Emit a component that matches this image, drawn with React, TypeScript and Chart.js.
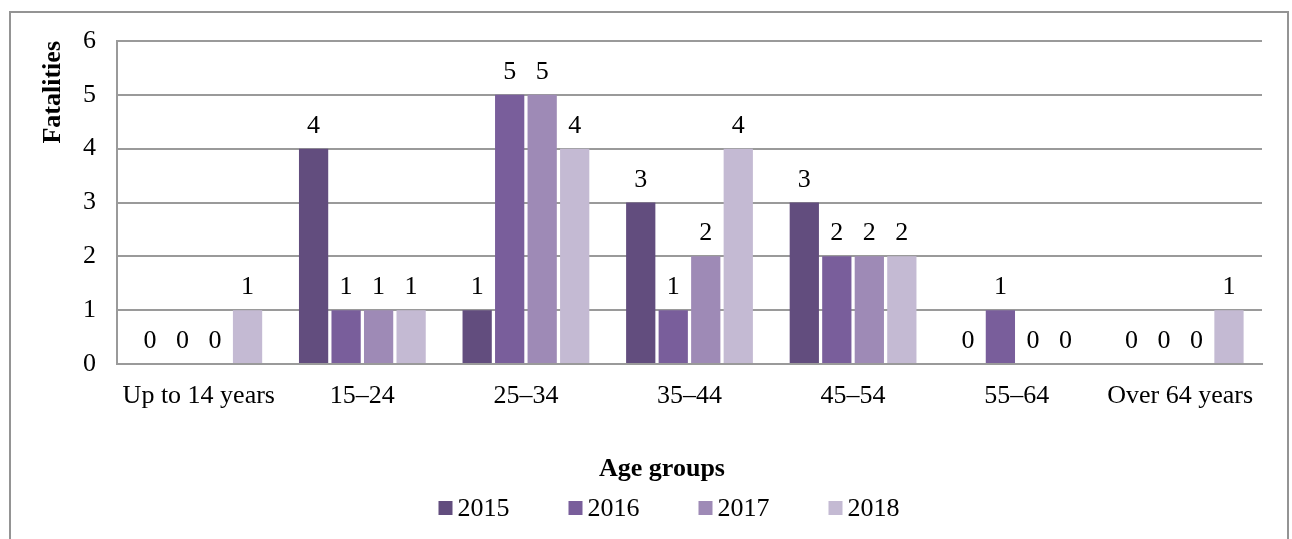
import React, { useEffect, useRef } from "react";
import { Chart, registerables } from "chart.js";

Chart.register(...registerables);

const categories = ["Up to 14 years", "15–24", "25–34", "35–44", "45–54", "55–64", "Over 64 years"];
const seriesNames = ["2015", "2016", "2017", "2018"];
const values2015 = [0, 4, 1, 3, 3, 0, 0];
const values2016 = [0, 1, 5, 1, 2, 1, 0];
const values2017 = [0, 1, 5, 2, 2, 0, 0];
const values2018 = [1, 1, 4, 4, 2, 0, 1];
const seriesColors = ["#624D7E", "#795E9B", "#9E8AB6", "#C4BAD3"];
const yTicks = [0, 1, 2, 3, 4, 5, 6];

const FONT = "'Liberation Serif', 'Times New Roman', serif";

const dataLabelPlugin = {
  id: "dataLabels",
  afterDatasetsDraw(chart: any) {
    const ctx = chart.ctx;
    ctx.save();
    ctx.font = `26px ${FONT}`;
    ctx.fillStyle = "#000";
    ctx.textAlign = "center";
    ctx.textBaseline = "alphabetic";
    chart.data.datasets.forEach((ds: any, i: number) => {
      const meta = chart.getDatasetMeta(i);
      meta.data.forEach((bar: any, j: number) => {
        ctx.fillText(String(ds.data[j]), bar.x, bar.y - 16);
      });
    });
    ctx.restore();
  },
};

const frameAndLegendPlugin = {
  id: "frameLegend",
  beforeDraw(chart: any) {
    const ctx = chart.ctx;
    ctx.save();
    ctx.fillStyle = "#fff";
    ctx.fillRect(0, 0, chart.width, chart.height);
    ctx.strokeStyle = "#949494";
    ctx.lineWidth = 2;
    ctx.strokeRect(10, 12, 1278, chart.height + 20);
    ctx.restore();
  },
  afterDraw(chart: any) {
    const ctx = chart.ctx;
    ctx.save();
    // axis title
    ctx.font = `bold 26px ${FONT}`;
    ctx.fillStyle = "#000";
    ctx.textAlign = "center";
    ctx.textBaseline = "middle";
    ctx.fillText("Age groups", 662, 469);
    // legend
    ctx.font = `26px ${FONT}`;
    const box = 14;
    const gap = 5;
    const itemGap = 59;
    const widths = seriesNames.map((n) => box + gap + ctx.measureText(n).width);
    const total = widths.reduce((a, b) => a + b, 0) + itemGap * (seriesNames.length - 1);
    let x = 669 - total / 2;
    const cy = 508;
    ctx.textAlign = "left";
    seriesNames.forEach((n, i) => {
      ctx.fillStyle = chart.data.datasets[i].backgroundColor;
      ctx.fillRect(x, cy - box / 2, box, box);
      ctx.fillStyle = "#000";
      ctx.fillText(n, x + box + gap, cy + 1);
      x += widths[i] + itemGap;
    });
    ctx.restore();
  },
};

export default function App() {
  const canvasRef = useRef<HTMLCanvasElement | null>(null);

  useEffect(() => {
    if (!canvasRef.current) return;
    Chart.defaults.font.family = FONT;
    Chart.defaults.color = "#000";
    const allValues = [values2015, values2016, values2017, values2018];
    const chart = new Chart(canvasRef.current, {
      type: "bar",
      data: {
        labels: categories,
        datasets: seriesNames.map((name, i) => ({
          label: name,
          data: allValues[i],
          backgroundColor: seriesColors[i],
          borderWidth: 0,
          categoryPercentage: 0.795,
          barPercentage: 0.9,
        })),
      },
      options: {
        animation: false,
        responsive: false,
        layout: { padding: { left: 30, right: 30, top: 41, bottom: 55 } },
        plugins: {
          legend: { display: false },
          tooltip: { enabled: false },
        },
        scales: {
          x: {
            grid: { display: false, drawTicks: false },
            border: { display: true, color: "#9a9a9a", width: 2 },
            ticks: { font: { size: 26 }, padding: 17, maxRotation: 0, autoSkip: false },
            afterFit(scale: any) {
              scale.height = 120;
            },
          },
          y: {
            min: 0,
            max: 6,
            afterBuildTicks(scale: any) {
              scale.ticks = yTicks.map((v) => ({ value: v }));
            },
            grid: { color: "#9a9a9a", lineWidth: 2, drawTicks: false },
            border: { display: true, color: "#9a9a9a", width: 2 },
            ticks: { font: { size: 26 }, padding: 21 },
            title: {
              display: true,
              text: "Fatalities",
              align: "end",
              font: { size: 26, weight: "bold" },
              padding: { top: 8, bottom: 0 },
            },
            afterFit(scale: any) {
              scale.width = 87;
            },
          },
        },
      },
      plugins: [frameAndLegendPlugin, dataLabelPlugin],
    });
    return () => chart.destroy();
  }, []);

  return (
    <div style={{ position: "absolute", left: 0, top: 0, width: 1292, height: 539 }}>
      <canvas ref={canvasRef} width={1292} height={539} style={{ display: "block" }} />
    </div>
  );
}
